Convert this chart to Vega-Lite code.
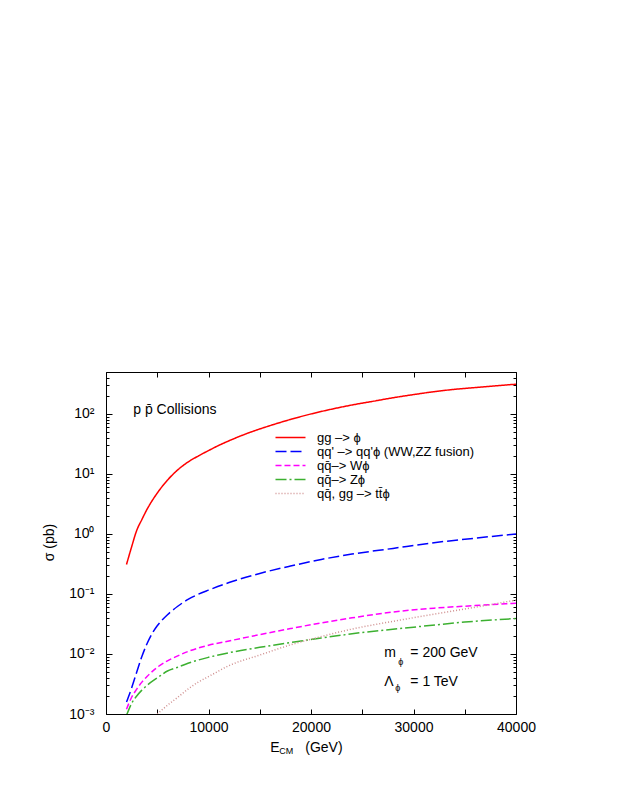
{
  "$schema": "https://vega.github.io/schema/vega-lite/v6.json",
  "width": 410,
  "height": 342,
  "autosize": {"type": "none"},
  "padding": {"left": 106, "top": 372, "right": 107, "bottom": 92},
  "background": "white",
  "config": {
    "view": {"stroke": "black", "strokeWidth": 1},
    "font": "Liberation Sans",
    "axis": {
      "domain": false, "grid": false,
      "labelFont": "Liberation Sans", "labelFontSize": 14, "labelColor": "black",
      "tickColor": "black", "tickWidth": 1,
      "titleFont": "Liberation Sans", "titleFontSize": 14, "titleFontWeight": "normal", "titleColor": "black"
    },
    "text": {"font": "Liberation Sans", "color": "black"}
  },
  "resolve": {"axis": {"x": "independent", "y": "independent"}},
  "layer": [
    {
      "data": {"values": [
        {"E": 2000, "s": 0.31, "p": "gg –> ϕ"},
        {"E": 2500, "s": 0.61, "p": "gg –> ϕ"},
        {"E": 3000, "s": 1.15, "p": "gg –> ϕ"},
        {"E": 3500, "s": 1.74, "p": "gg –> ϕ"},
        {"E": 4000, "s": 2.57, "p": "gg –> ϕ"},
        {"E": 5000, "s": 4.8, "p": "gg –> ϕ"},
        {"E": 6000, "s": 7.9, "p": "gg –> ϕ"},
        {"E": 7000, "s": 11.7, "p": "gg –> ϕ"},
        {"E": 8000, "s": 15.8, "p": "gg –> ϕ"},
        {"E": 9000, "s": 19.9, "p": "gg –> ϕ"},
        {"E": 10000, "s": 24.5, "p": "gg –> ϕ"},
        {"E": 11000, "s": 29.9, "p": "gg –> ϕ"},
        {"E": 12000, "s": 35.7, "p": "gg –> ϕ"},
        {"E": 14000, "s": 49, "p": "gg –> ϕ"},
        {"E": 16000, "s": 63.8, "p": "gg –> ϕ"},
        {"E": 18000, "s": 81, "p": "gg –> ϕ"},
        {"E": 20000, "s": 100, "p": "gg –> ϕ"},
        {"E": 22000, "s": 120, "p": "gg –> ϕ"},
        {"E": 24000, "s": 141, "p": "gg –> ϕ"},
        {"E": 26000, "s": 162, "p": "gg –> ϕ"},
        {"E": 28000, "s": 186, "p": "gg –> ϕ"},
        {"E": 30000, "s": 210, "p": "gg –> ϕ"},
        {"E": 32000, "s": 235, "p": "gg –> ϕ"},
        {"E": 34000, "s": 257, "p": "gg –> ϕ"},
        {"E": 36000, "s": 275, "p": "gg –> ϕ"},
        {"E": 38000, "s": 294, "p": "gg –> ϕ"},
        {"E": 40000, "s": 313, "p": "gg –> ϕ"},

        {"E": 2000, "s": 0.00158, "p": "qq' –> qq'ϕ (WW,ZZ fusion)"},
        {"E": 2500, "s": 0.00272, "p": "qq' –> qq'ϕ (WW,ZZ fusion)"},
        {"E": 3000, "s": 0.005, "p": "qq' –> qq'ϕ (WW,ZZ fusion)"},
        {"E": 3500, "s": 0.0091, "p": "qq' –> qq'ϕ (WW,ZZ fusion)"},
        {"E": 4000, "s": 0.0148, "p": "qq' –> qq'ϕ (WW,ZZ fusion)"},
        {"E": 4500, "s": 0.0219, "p": "qq' –> qq'ϕ (WW,ZZ fusion)"},
        {"E": 5000, "s": 0.0295, "p": "qq' –> qq'ϕ (WW,ZZ fusion)"},
        {"E": 5500, "s": 0.0372, "p": "qq' –> qq'ϕ (WW,ZZ fusion)"},
        {"E": 6000, "s": 0.0452, "p": "qq' –> qq'ϕ (WW,ZZ fusion)"},
        {"E": 7000, "s": 0.0624, "p": "qq' –> qq'ϕ (WW,ZZ fusion)"},
        {"E": 8000, "s": 0.0813, "p": "qq' –> qq'ϕ (WW,ZZ fusion)"},
        {"E": 9000, "s": 0.0989, "p": "qq' –> qq'ϕ (WW,ZZ fusion)"},
        {"E": 10000, "s": 0.116, "p": "qq' –> qq'ϕ (WW,ZZ fusion)"},
        {"E": 12000, "s": 0.155, "p": "qq' –> qq'ϕ (WW,ZZ fusion)"},
        {"E": 15000, "s": 0.22, "p": "qq' –> qq'ϕ (WW,ZZ fusion)"},
        {"E": 18000, "s": 0.292, "p": "qq' –> qq'ϕ (WW,ZZ fusion)"},
        {"E": 21000, "s": 0.376, "p": "qq' –> qq'ϕ (WW,ZZ fusion)"},
        {"E": 24000, "s": 0.462, "p": "qq' –> qq'ϕ (WW,ZZ fusion)"},
        {"E": 28000, "s": 0.575, "p": "qq' –> qq'ϕ (WW,ZZ fusion)"},
        {"E": 32000, "s": 0.716, "p": "qq' –> qq'ϕ (WW,ZZ fusion)"},
        {"E": 36000, "s": 0.851, "p": "qq' –> qq'ϕ (WW,ZZ fusion)"},
        {"E": 40000, "s": 1.0, "p": "qq' –> qq'ϕ (WW,ZZ fusion)"},

        {"E": 2000, "s": 0.0012, "p": "qq̄–> Wϕ"},
        {"E": 2500, "s": 0.0019, "p": "qq̄–> Wϕ"},
        {"E": 3000, "s": 0.0026, "p": "qq̄–> Wϕ"},
        {"E": 3500, "s": 0.0034, "p": "qq̄–> Wϕ"},
        {"E": 4000, "s": 0.0042, "p": "qq̄–> Wϕ"},
        {"E": 5000, "s": 0.006, "p": "qq̄–> Wϕ"},
        {"E": 6000, "s": 0.0077, "p": "qq̄–> Wϕ"},
        {"E": 7000, "s": 0.0093, "p": "qq̄–> Wϕ"},
        {"E": 8000, "s": 0.011, "p": "qq̄–> Wϕ"},
        {"E": 10000, "s": 0.014, "p": "qq̄–> Wϕ"},
        {"E": 12000, "s": 0.0165, "p": "qq̄–> Wϕ"},
        {"E": 15000, "s": 0.021, "p": "qq̄–> Wϕ"},
        {"E": 18000, "s": 0.0265, "p": "qq̄–> Wϕ"},
        {"E": 21000, "s": 0.033, "p": "qq̄–> Wϕ"},
        {"E": 24000, "s": 0.04, "p": "qq̄–> Wϕ"},
        {"E": 28000, "s": 0.05, "p": "qq̄–> Wϕ"},
        {"E": 32000, "s": 0.058, "p": "qq̄–> Wϕ"},
        {"E": 36000, "s": 0.064, "p": "qq̄–> Wϕ"},
        {"E": 40000, "s": 0.07, "p": "qq̄–> Wϕ"},

        {"E": 2000, "s": 0.00095, "p": "qq̄–> Zϕ"},
        {"E": 2500, "s": 0.0015, "p": "qq̄–> Zϕ"},
        {"E": 3000, "s": 0.002, "p": "qq̄–> Zϕ"},
        {"E": 3500, "s": 0.0025, "p": "qq̄–> Zϕ"},
        {"E": 4000, "s": 0.003, "p": "qq̄–> Zϕ"},
        {"E": 5000, "s": 0.004, "p": "qq̄–> Zϕ"},
        {"E": 6000, "s": 0.0052, "p": "qq̄–> Zϕ"},
        {"E": 7000, "s": 0.006, "p": "qq̄–> Zϕ"},
        {"E": 8000, "s": 0.007, "p": "qq̄–> Zϕ"},
        {"E": 10000, "s": 0.0088, "p": "qq̄–> Zϕ"},
        {"E": 12000, "s": 0.0105, "p": "qq̄–> Zϕ"},
        {"E": 15000, "s": 0.0129, "p": "qq̄–> Zϕ"},
        {"E": 18000, "s": 0.0155, "p": "qq̄–> Zϕ"},
        {"E": 21000, "s": 0.0185, "p": "qq̄–> Zϕ"},
        {"E": 25000, "s": 0.0228, "p": "qq̄–> Zϕ"},
        {"E": 30000, "s": 0.028, "p": "qq̄–> Zϕ"},
        {"E": 35000, "s": 0.034, "p": "qq̄–> Zϕ"},
        {"E": 40000, "s": 0.039, "p": "qq̄–> Zϕ"},

        {"E": 5000, "s": 0.001, "p": "qq̄, gg –> tt̄ϕ"},
        {"E": 6000, "s": 0.0014, "p": "qq̄, gg –> tt̄ϕ"},
        {"E": 7000, "s": 0.0019, "p": "qq̄, gg –> tt̄ϕ"},
        {"E": 8000, "s": 0.0026, "p": "qq̄, gg –> tt̄ϕ"},
        {"E": 9000, "s": 0.0034, "p": "qq̄, gg –> tt̄ϕ"},
        {"E": 10000, "s": 0.0042, "p": "qq̄, gg –> tt̄ϕ"},
        {"E": 12000, "s": 0.0064, "p": "qq̄, gg –> tt̄ϕ"},
        {"E": 15000, "s": 0.0096, "p": "qq̄, gg –> tt̄ϕ"},
        {"E": 18000, "s": 0.0142, "p": "qq̄, gg –> tt̄ϕ"},
        {"E": 21000, "s": 0.0195, "p": "qq̄, gg –> tt̄ϕ"},
        {"E": 24000, "s": 0.026, "p": "qq̄, gg –> tt̄ϕ"},
        {"E": 28000, "s": 0.035, "p": "qq̄, gg –> tt̄ϕ"},
        {"E": 32000, "s": 0.046, "p": "qq̄, gg –> tt̄ϕ"},
        {"E": 36000, "s": 0.06, "p": "qq̄, gg –> tt̄ϕ"},
        {"E": 40000, "s": 0.079, "p": "qq̄, gg –> tt̄ϕ"}
      ]},
      "mark": {"type": "line", "clip": true, "strokeWidth": 1.5, "interpolate": "monotone"},
      "encoding": {
        "x": {
          "field": "E", "type": "quantitative",
          "scale": {"domain": [0, 40000], "nice": false, "zero": false},
          "axis": {
            "orient": "bottom", "title": null, "format": "d",
            "values": [0, 5000, 10000, 15000, 20000, 25000, 30000, 35000, 40000],
            "labelExpr": "datum.value % 10000 == 0 ? datum.label : ''",
            "tickSize": -5, "labelPadding": 11, "labelFlush": false
          }
        },
        "y": {
          "field": "s", "type": "quantitative",
          "scale": {"type": "log", "domain": [0.001, 500], "nice": false},
          "axis": {
            "orient": "left", "title": "σ   (pb)", "titleX": -50, "titleY": 170,
            "values": [0.001, 0.002, 0.003, 0.004, 0.005, 0.006, 0.007, 0.008, 0.009,
                       0.01, 0.02, 0.03, 0.04, 0.05, 0.06, 0.07, 0.08, 0.09,
                       0.1, 0.2, 0.3, 0.4, 0.5, 0.6, 0.7, 0.8, 0.9,
                       1, 2, 3, 4, 5, 6, 7, 8, 9,
                       10, 20, 30, 40, 50, 60, 70, 80, 90,
                       100, 200, 300, 400, 500],
            "labelExpr": "datum.value == 100 ? '10²' : datum.value == 10 ? '10¹' : datum.value == 1 ? '10⁰' : datum.value == 0.1 ? '10⁻¹' : datum.value == 0.01 ? '10⁻²' : datum.value == 0.001 ? '10⁻³' : ''",
            "tickSize": {"condition": {"test": "abs(log(datum.value)/LN10 - round(log(datum.value)/LN10)) < 0.001", "value": -6}, "value": -3},
            "labelPadding": 18, "labelFlush": false, "labelOverlap": false
          }
        },
        "color": {
          "field": "p", "type": "nominal",
          "scale": {
            "domain": ["gg –> ϕ", "qq' –> qq'ϕ (WW,ZZ fusion)", "qq̄–> Wϕ", "qq̄–> Zϕ", "qq̄, gg –> tt̄ϕ"],
            "range": ["#ff0000", "#0000ff", "#ff00ff", "#3cb030", "#d09090"]
          },
          "legend": {
            "orient": "none", "legendX": 178, "legendY": 59, "title": null,
            "symbolType": "M-3,0H3", "symbolSize": 100, "symbolStrokeWidth": 1.5,
            "labelFontSize": 13, "labelFont": "Liberation Sans", "labelColor": "black", "labelLimit": 0,
            "labelOffset": 20, "rowPadding": 0, "padding": 0
          }
        },
        "strokeDash": {
          "field": "p", "type": "nominal",
          "scale": {
            "domain": ["gg –> ϕ", "qq' –> qq'ϕ (WW,ZZ fusion)", "qq̄–> Wϕ", "qq̄–> Zϕ", "qq̄, gg –> tt̄ϕ"],
            "range": [[1, 0], [11, 4], [6, 3], [11, 3, 2, 3], [1, 2]]
          },
          "legend": {
            "orient": "none", "legendX": 178, "legendY": 59, "title": null,
            "symbolType": "M-3,0H3", "symbolSize": 100, "symbolStrokeWidth": 1.5,
            "labelFontSize": 13, "labelFont": "Liberation Sans", "labelColor": "black", "labelLimit": 0,
            "labelOffset": 20, "rowPadding": 0, "padding": 0
          }
        }
      }
    },
    {
      "data": {"values": [
        {"x": 2660, "y": 116, "t": "p p̄ Collisions"},
        {"x": 27150, "y": 0.0104, "t": "m"},
        {"x": 29690, "y": 0.0104, "t": "= 200 GeV"},
        {"x": 27150, "y": 0.00345, "t": "Λ"},
        {"x": 29690, "y": 0.00345, "t": "= 1 TeV"},
        {"x": 16030, "y": 0.000271, "t": "E"},
        {"x": 19440, "y": 0.000271, "t": "(GeV)"}
      ]},
      "mark": {"type": "text", "align": "left", "baseline": "middle", "fontSize": 14},
      "encoding": {
        "x": {
          "field": "x", "type": "quantitative",
          "axis": {
            "orient": "top", "title": null, "labels": false,
            "values": [0, 5000, 10000, 15000, 20000, 25000, 30000, 35000, 40000],
            "tickSize": -5
          }
        },
        "y": {
          "field": "y", "type": "quantitative",
          "axis": {
            "orient": "right", "title": null, "labels": false,
            "values": [0.001, 0.002, 0.003, 0.004, 0.005, 0.006, 0.007, 0.008, 0.009,
                       0.01, 0.02, 0.03, 0.04, 0.05, 0.06, 0.07, 0.08, 0.09,
                       0.1, 0.2, 0.3, 0.4, 0.5, 0.6, 0.7, 0.8, 0.9,
                       1, 2, 3, 4, 5, 6, 7, 8, 9,
                       10, 20, 30, 40, 50, 60, 70, 80, 90,
                       100, 200, 300, 400, 500],
            "tickSize": {"condition": {"test": "abs(log(datum.value)/LN10 - round(log(datum.value)/LN10)) < 0.001", "value": -6}, "value": -3}
          }
        },
        "text": {"field": "t", "type": "nominal"}
      }
    },
    {
      "data": {"values": [
        {"x": 28520, "y": 0.0074, "t": "ϕ"},
        {"x": 28220, "y": 0.0027, "t": "ϕ"},
        {"x": 16900, "y": 0.000242, "t": "CM"}
      ]},
      "mark": {"type": "text", "align": "left", "baseline": "middle", "fontSize": 9},
      "encoding": {
        "x": {"field": "x", "type": "quantitative", "axis": null},
        "y": {"field": "y", "type": "quantitative", "axis": null},
        "text": {"field": "t", "type": "nominal"}
      }
    }
  ]
}
